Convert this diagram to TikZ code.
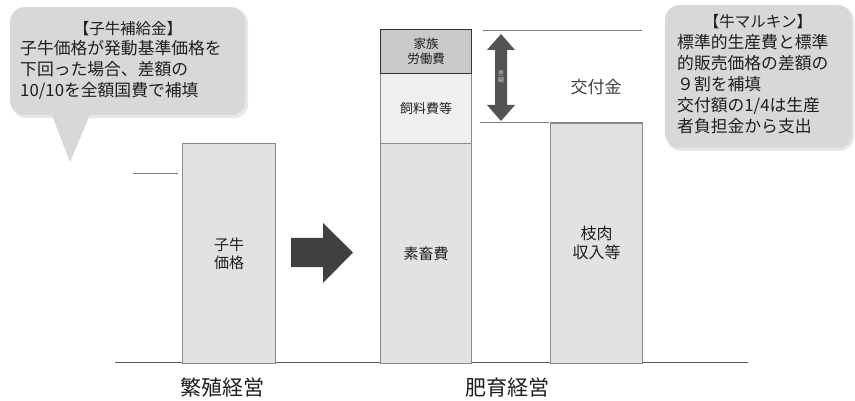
\documentclass[tikz,border=0pt]{standalone}
\usepackage{fontspec}
\setmainfont{Noto Sans CJK JP}
\definecolor{barfill}{HTML}{E2E2E2}
\definecolor{barline}{HTML}{8A8A8A}
\definecolor{feedfill}{HTML}{EFEFEF}
\definecolor{famfill}{HTML}{C9C9C9}
\definecolor{callfill}{HTML}{D8D8D8}
\definecolor{ink}{HTML}{1E1E1E}
\definecolor{arrowfill}{HTML}{404040}
\begin{document}
\begin{tikzpicture}[x=1pt,y=-1pt,
  every node/.style={text=ink},
  bar/.style={draw=barline, fill=barfill, line width=1.3pt, anchor=north west, inner sep=0pt, align=center, font=\fontsize{15}{18}\selectfont},
  callbox/.style={fill=callfill, rounded corners=14pt, anchor=north west, inner sep=0pt},
  calltext/.style={align=left, anchor=north west, inner sep=0pt, font=\fontsize{16.8}{21}\selectfont},
  guide/.style={draw=barline!90!black, line width=0.9pt},
  caption/.style={font=\fontsize{21}{24}\selectfont}
]
\useasboundingbox (0,0) rectangle (855,401);
\fill[white] (0,0) rectangle (855,401);

% callout 1
\fill[callfill!60, rounded corners=14pt] (12,9) rectangle (248,118);
\node[callbox, minimum width=235pt, minimum height=108pt] (cb1) at (10,7) {};
\fill[callfill] (50,110) -- (92,110) -- (70,162) -- cycle;
\node[font=\fontsize{15.5}{18}\selectfont] (h1) at (128,29) {【子牛補給金】};
\node[calltext] (t1) at (20,40) {子牛価格が発動基準価格を\\下回った場合、差額の\\10/10を全額国費で補填};

% callout 2
\fill[callfill!60, rounded corners=14pt] (667,7) rectangle (854,151);
\node[callbox, minimum width=187pt, minimum height=143pt] (cb2) at (665,5) {};
\node[font=\fontsize{15.5}{18}\selectfont] (h2) at (758,22) {【牛マルキン】};
\node[calltext] (t2) at (677,34) {標準的生産費と標準\\的販売価格の差額の\\９割を補填\\交付額の1/4は生産\\者負担金から支出};

% baseline and guides
\coordinate (bl0) at (115,362.5);
\coordinate (bl1) at (748,362.5);
\draw[guide, draw=black!65] (bl0) -- (bl1);
\coordinate (g0) at (133,173.5);
\coordinate (g1) at (178,173.5);
\draw[guide] (g0) -- (g1);
\coordinate (top0) at (483,30);
\coordinate (top1) at (642,30);
\draw[guide] (top0) -- (top1);
\coordinate (mid0) at (480,122.5);
\coordinate (mid1) at (549,122.5);
\draw[guide] (mid0) -- (mid1);

% bars
\node[bar, minimum width=93pt, minimum height=219.5pt] (calf) at (182,143) {子牛\\価格};
\node[bar, minimum width=91pt, minimum height=219.5pt] (stock) at (380,143) {素畜費};
\node[bar, fill=feedfill, minimum width=91pt, minimum height=70pt, font=\fontsize{13}{15}\selectfont] (feed) at (380,73) {飼料費等};
\node[bar, fill=famfill, draw=black!80, minimum width=91pt, minimum height=44pt, font=\fontsize{12.5}{15}\selectfont] (fam) at (380,29) {家族\\労働費};
\node[bar, minimum width=92pt, minimum height=240pt, font=\fontsize{16}{19}\selectfont] (meat) at (550,122.5) {枝肉\\収入等};
\node[font=\fontsize{17}{20}\selectfont, text=ink!85] (grant) at (596,87) {交付金};

% block arrow between bars
\fill[arrowfill] (291,238) -- (323,238) -- (323,223) -- (353,252.5) -- (323,283) -- (323,267) -- (291,267) -- cycle;

% double arrow
\fill[arrowfill!90] (501,34) -- (515,50) -- (507,50) -- (507,105) -- (515,105) -- (501,121) -- (487,105) -- (495,105) -- (495,50) -- (487,50) -- cycle;
\node[font=\fontsize{6}{7}\selectfont, text=white!80!black, align=center, inner sep=0pt] (gap) at (501,77) {差\\額};

% captions
\node[caption] (breed) at (222,388) {繁殖経営};
\node[caption] (fatten) at (507,388) {肥育経営};
\end{tikzpicture}
\end{document}
